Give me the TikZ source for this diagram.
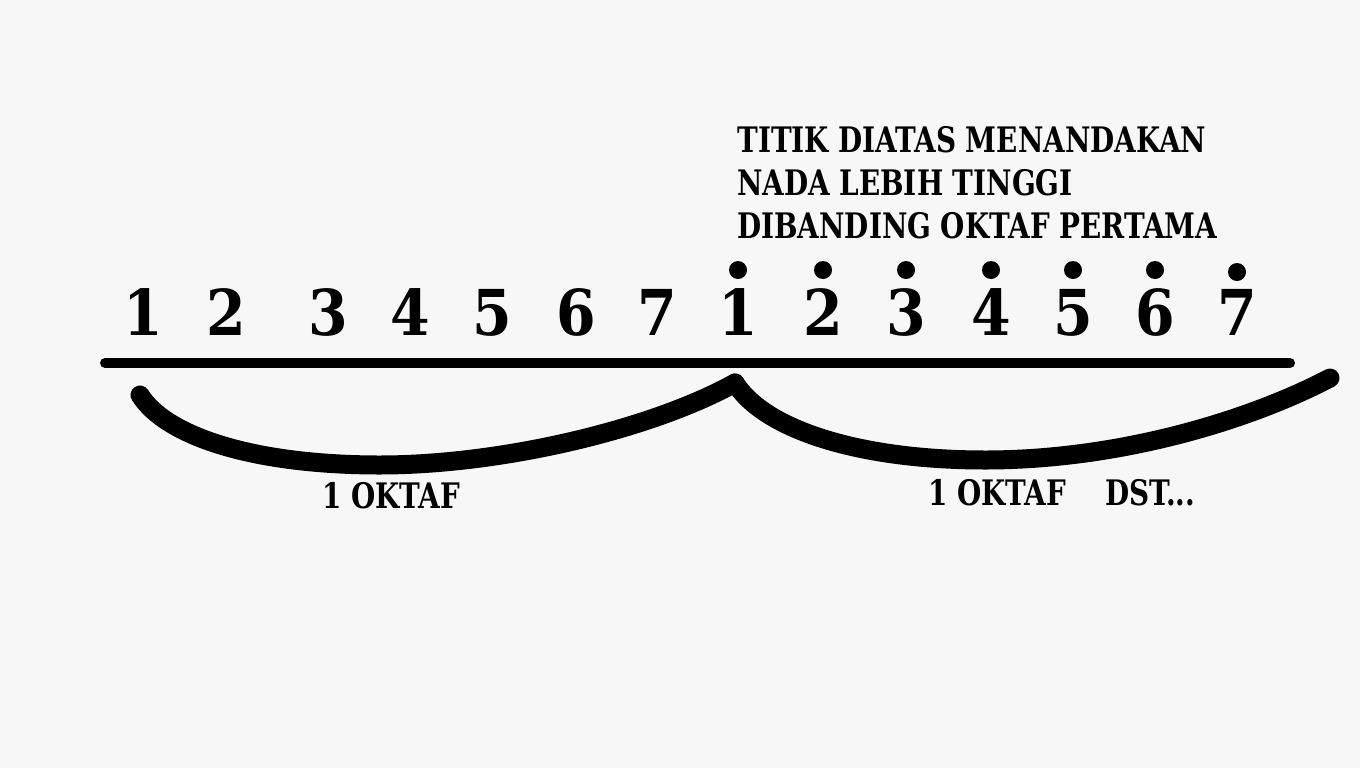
\documentclass[tikz,border=0pt]{standalone}
\usepackage{fontspec}
\setmainfont{DejaVu Serif Condensed}
\newfontfamily\narrowfont[FakeStretch=0.88]{DejaVu Serif Condensed}
\definecolor{paper}{RGB}{247, 247, 247}
\usetikzlibrary{positioning, calc}

\begin{document}
\begin{tikzpicture}[x=0.02cm, y=-0.02cm]
  % Background
  \fill[paper] (0, 0) rectangle (1360, 768);
  \useasboundingbox (0, 0) rectangle (1360, 768);

  % First octave
  \node[font=\fontsize{36}{36}\selectfont\bfseries, anchor=base, inner sep=0pt] (n1) at (143, 335) {1};
  \node[font=\fontsize{36}{36}\selectfont\bfseries, anchor=base, inner sep=0pt] (n2) at (226, 335) {2};
  \node[font=\fontsize{36}{36}\selectfont\bfseries, anchor=base, inner sep=0pt] (n3) at (328, 335) {3};
  \node[font=\fontsize{36}{36}\selectfont\bfseries, anchor=base, inner sep=0pt] (n4) at (410, 335) {4};
  \node[font=\fontsize{36}{36}\selectfont\bfseries, anchor=base, inner sep=0pt] (n5) at (492, 335) {5};
  \node[font=\fontsize{36}{36}\selectfont\bfseries, anchor=base, inner sep=0pt] (n6) at (576, 335) {6};
  \node[font=\fontsize{36}{36}\selectfont\bfseries, anchor=base, inner sep=0pt] (n7) at (657, 335) {7};

  % Second octave (dotted)
  \node[font=\fontsize{36}{36}\selectfont\bfseries, anchor=base, inner sep=0pt] (h1) at (738, 335) {1};
  \node[font=\fontsize{36}{36}\selectfont\bfseries, anchor=base, inner sep=0pt] (h2) at (823, 335) {2};
  \node[font=\fontsize{36}{36}\selectfont\bfseries, anchor=base, inner sep=0pt] (h3) at (906, 335) {3};
  \node[font=\fontsize{36}{36}\selectfont\bfseries, anchor=base, inner sep=0pt] (h4) at (991, 335) {4};
  \node[font=\fontsize{36}{36}\selectfont\bfseries, anchor=base, inner sep=0pt] (h5) at (1073, 335) {5};
  \node[font=\fontsize{36}{36}\selectfont\bfseries, anchor=base, inner sep=0pt] (h6) at (1155, 335) {6};
  \node[font=\fontsize{36}{36}\selectfont\bfseries, anchor=base, inner sep=0pt] (h7) at (1237, 335) {7};

  % Dots above
  \fill (h1.north |- 0, 270) circle (9);
  \fill (h2.north |- 0, 270) circle (9);
  \fill (h3.north |- 0, 270) circle (9);
  \fill (h4.north |- 0, 270) circle (9);
  \fill (h5.north |- 0, 270) circle (9);
  \fill (h6.north |- 0, 270) circle (9);
  \fill (h7.north |- 0, 272) circle (9);

  % Note
  \node[font=\narrowfont\fontsize{20}{24.4}\selectfont\bfseries, anchor=base west, align=left, inner sep=0pt] (note) at (737, 238) {TITIK DIATAS MENANDAKAN\\NADA LEBIH TINGGI\\DIBANDING OKTAF PERTAMA};

  % Staff line
  \coordinate (lineL) at (105, 363);
  \coordinate (lineR) at (1290, 363);
  \draw[line width=10*0.02cm, line cap=round] (lineL) -- (lineR);

  % Octave curves
  \coordinate (arcA) at (140, 395);
  \coordinate (peak) at (735, 383);
  \coordinate (arcB) at (1330, 378);
  \draw[line width=19*0.02cm, line cap=round, line join=round] (arcA) .. controls (165, 435) and (250, 465) .. (380, 465) .. controls (500, 465) and (650, 430) .. (peak);
  \draw[line width=19*0.02cm, line cap=round, line join=round] (peak) .. controls (765, 430) and (860, 460) .. (985, 460) .. controls (1120, 460) and (1250, 420) .. (arcB);

  % Labels
  \node[font=\narrowfont\fontsize{20}{20}\selectfont\bfseries, anchor=base west, inner sep=0pt] (okt1) at (322, 508) {1 OKTAF};
  \node[font=\narrowfont\fontsize{20}{20}\selectfont\bfseries, anchor=base west, inner sep=0pt] (okt2) at (928, 505) {1 OKTAF};
  \node[font=\narrowfont\fontsize{20}{20}\selectfont\bfseries, anchor=base west, inner sep=0pt] (dst) at (1105, 505) {DST...};
\end{tikzpicture}
\end{document}
